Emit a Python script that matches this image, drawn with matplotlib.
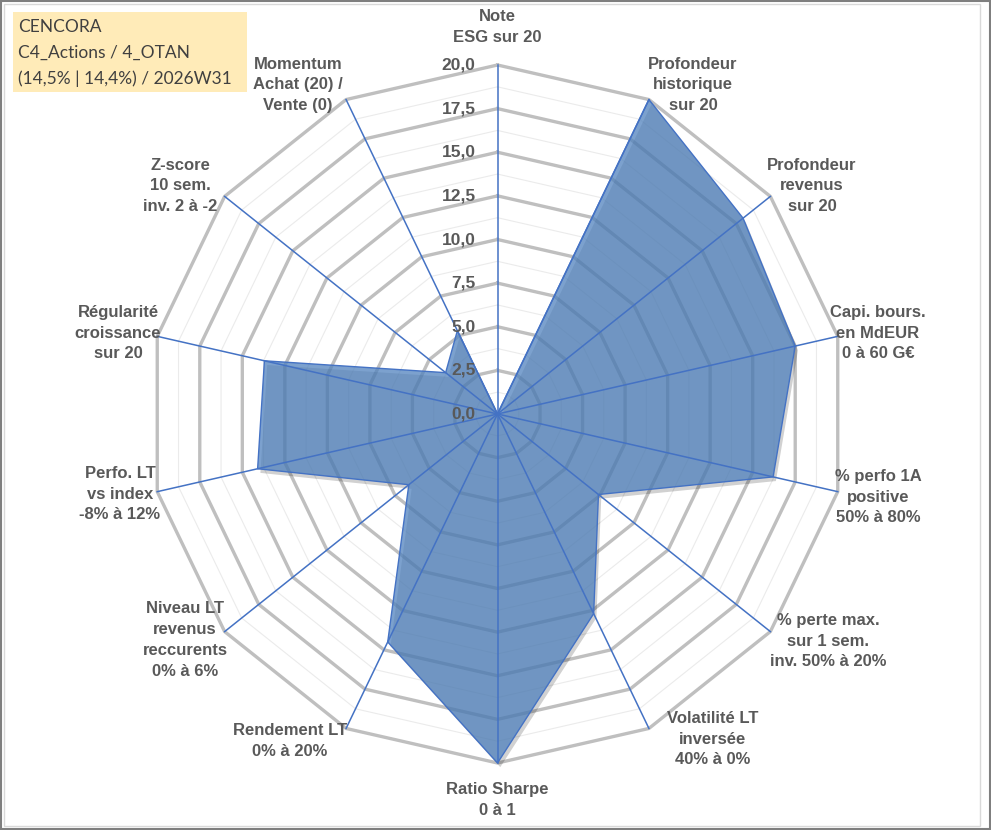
import numpy as np
import matplotlib
matplotlib.use("Agg")
import matplotlib.pyplot as plt
from matplotlib.patches import Rectangle
from matplotlib import patheffects as pe
from matplotlib.transforms import offset_copy

# ---------------- data ----------------
categories = [
    "Note\nESG sur 20",
    "Profondeur\nhistorique\nsur 20",
    "Profondeur\nrevenus\nsur 20",
    "Capi. bours.\nen MdEUR\n0 à 60 G€",
    "% perfo 1A\npositive\n50% à 80%",
    "% perte max.\nsur 1 sem.\ninv. 50% à 20%",
    "Volatilité LT\ninversée\n40% à 0%",
    "Ratio Sharpe\n0 à 1",
    "Rendement LT\n0% à 20%",
    "Niveau LT\nrevenus\nreccurents\n0% à 6%",
    "Perfo. LT\nvs index\n-8% à 12%",
    "Régularité\ncroissance\nsur 20",
    "Z-score\n10 sem.\ninv. 2 à -2",
    "Momentum\nAchat (20) /\nVente (0)",
]
values = [0, 20, 18, 17.5, 16.2, 7.4, 12.7, 20, 14.5, 6.5, 14.1, 13.7, 3.8, 5.3]
tick_values = [0, 2.5, 5, 7.5, 10, 12.5, 15, 17.5, 20]
tick_labels = ["0,0", "2,5", "5,0", "7,5", "10,0", "12,5", "15,0", "17,5", "20,0"]
minor_values = [1.25, 3.75, 6.25, 8.75, 11.25, 13.75, 16.25, 18.75]
title_lines = ["CENCORA", "C4_Actions / 4_OTAN", "(14,5% | 14,4%) / 2026W31"]

# ---------------- layout (pixels) ----------------
W, H = 991, 830
label_pos = [
    (497, 27), (693, 85), (812, 186), (878, 333), (878, 497), (828, 641),
    (713, 739), (497, 800), (290, 741), (185, 640), (120, 494), (118, 333),
    (180, 186), (298, 85),
]

def fx(x):
    return x / W

def fy(y):
    return 1 - y / H

fig = plt.figure(figsize=(W / 100, H / 100), dpi=100)
fig.patch.set_facecolor("white")

cx, cy, R = 497.5, 414, 349
ax = fig.add_axes([(cx - R) / W, (H - cy - R) / H, 2 * R / W, 2 * R / H],
                  projection="polar")
ax.set_theta_zero_location("N")
ax.set_theta_direction(-1)
ax.set_ylim(0, 20)
ax.axis("off")

n = len(categories)
theta = np.linspace(0, 2 * np.pi, n, endpoint=False)
theta_c = np.append(theta, theta[0])

# minor rings
for v in minor_values:
    ax.plot(theta_c, [v] * (n + 1), color="#EBEBEB", lw=0.8, zorder=1, clip_on=False)
# major rings
for v in tick_values[1:]:
    ax.plot(theta_c, [v] * (n + 1), color="#BFBFBF", lw=2.4, zorder=2,
            clip_on=False, solid_joinstyle="miter")

# data polygon
vals_c = np.append(values, values[0])
ax.fill(theta_c, vals_c, color="#4F81BD", alpha=0.74, zorder=3, lw=0,
        clip_on=False,
        path_effects=[pe.SimplePatchShadow(offset=(2, -3), shadow_rgbFace="k", alpha=0.18),
                      pe.Normal()])
ax.plot(theta_c, vals_c, color="#4472C4", lw=1.0, zorder=4, clip_on=False)

# spokes
for t in theta:
    ax.plot([t, t], [0, 20], color="#4472C4", lw=1.1, zorder=5, clip_on=False)

# radial tick labels
tr = offset_copy(ax.transData, fig=fig, x=-22, y=0, units="dots")
for v, lab in zip(tick_values, tick_labels):
    ax.text(0, v, lab, transform=tr, ha="right", va="center", fontsize=12.5,
            fontweight="bold", color="#595959", family="Liberation Sans", zorder=6)

# category labels
for lab, (x, y) in zip(categories, label_pos):
    fig.text(fx(x), fy(y), lab, ha="center", va="center", multialignment="center",
             fontsize=12, fontweight="bold", color="#595959",
             family="Liberation Sans", linespacing=1.48)

# title box
fig.patches.append(Rectangle((fx(13), fy(92)), fx(247) - fx(13), fy(12) - fy(92),
                             transform=fig.transFigure, facecolor="#FFEBB8",
                             edgecolor="none", zorder=0))
for i, line in enumerate(title_lines):
    fig.text(fx(18), fy(27 + 26 * i), line, ha="left", va="center",
             fontsize=12.5, color="#404040", family="Lato")

# borders
fig.patches.append(Rectangle((fx(4), fy(826)), fx(980) - fx(4), fy(4) - fy(826),
                             transform=fig.transFigure, facecolor="none",
                             edgecolor="#D9D9D9", lw=1))
fig.patches.append(Rectangle((0.001, 0.001), 0.998, 0.998, transform=fig.transFigure,
                             facecolor="none", edgecolor="#7F7F7F", lw=1.5))

fig.savefig("out.png", dpi=100)
